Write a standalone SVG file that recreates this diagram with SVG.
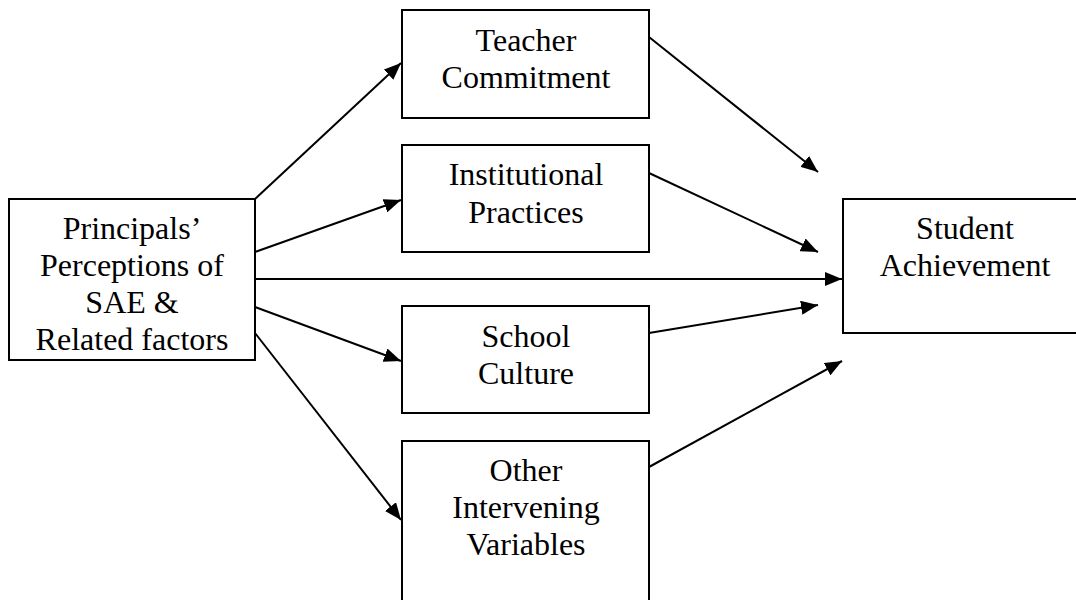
<svg xmlns="http://www.w3.org/2000/svg" width="1076" height="600" viewBox="0 0 1076 600">
<style>
.box{fill:#fff;stroke:#000;stroke-width:2}
.lbl{font-family:"Liberation Serif","Times New Roman",serif;font-size:32px;fill:#000;text-anchor:middle}
.con{stroke:#000;stroke-width:2;fill:none;marker-end:url(#ah)}
</style>
<defs>
<marker id="ah" markerUnits="userSpaceOnUse" markerWidth="18" markerHeight="14" refX="17" refY="7" orient="auto">
<path d="M0,0 L17,7 L0,14 z" fill="#000"/>
</marker>
</defs>
<rect width="1076" height="600" fill="#fff"/>
<g id="connectors">
<line class="con" x1="255" y1="199" x2="401" y2="63"/>
<line class="con" x1="255" y1="252" x2="401" y2="200"/>
<line class="con" x1="255" y1="279" x2="842" y2="279"/>
<line class="con" x1="255" y1="307" x2="401" y2="361"/>
<line class="con" x1="255" y1="333" x2="401" y2="520"/>
<line class="con" x1="649" y1="37" x2="818" y2="172"/>
<line class="con" x1="649" y1="173" x2="818" y2="252"/>
<line class="con" x1="649" y1="333" x2="818" y2="305"/>
<line class="con" x1="649" y1="467" x2="842" y2="361"/>
</g>
<g id="principals">
<rect class="box" x="9" y="199" width="246" height="161"/>
<text class="lbl" x="132" y="239">Principals’</text>
<text class="lbl" x="132" y="276">Perceptions of</text>
<text class="lbl" x="132" y="313">SAE &amp;</text>
<text class="lbl" x="132" y="350">Related factors</text>
</g>
<g id="teacher">
<rect class="box" x="402" y="10" width="247" height="108"/>
<text class="lbl" x="526" y="51">Teacher</text>
<text class="lbl" x="526" y="88">Commitment</text>
</g>
<g id="institutional">
<rect class="box" x="402" y="145" width="247" height="107"/>
<text class="lbl" x="526" y="185">Institutional</text>
<text class="lbl" x="526" y="223">Practices</text>
</g>
<g id="school">
<rect class="box" x="402" y="306" width="247" height="107"/>
<text class="lbl" x="526" y="347">School</text>
<text class="lbl" x="526" y="384">Culture</text>
</g>
<g id="other">
<rect class="box" x="402" y="441" width="247" height="200"/>
<text class="lbl" x="526" y="481">Other</text>
<text class="lbl" x="526" y="518">Intervening</text>
<text class="lbl" x="526" y="555">Variables</text>
</g>
<g id="student">
<rect class="box" x="843" y="199" width="300" height="134"/>
<text class="lbl" x="965" y="239">Student</text>
<text class="lbl" x="965" y="276">Achievement</text>
</g>
</svg>
